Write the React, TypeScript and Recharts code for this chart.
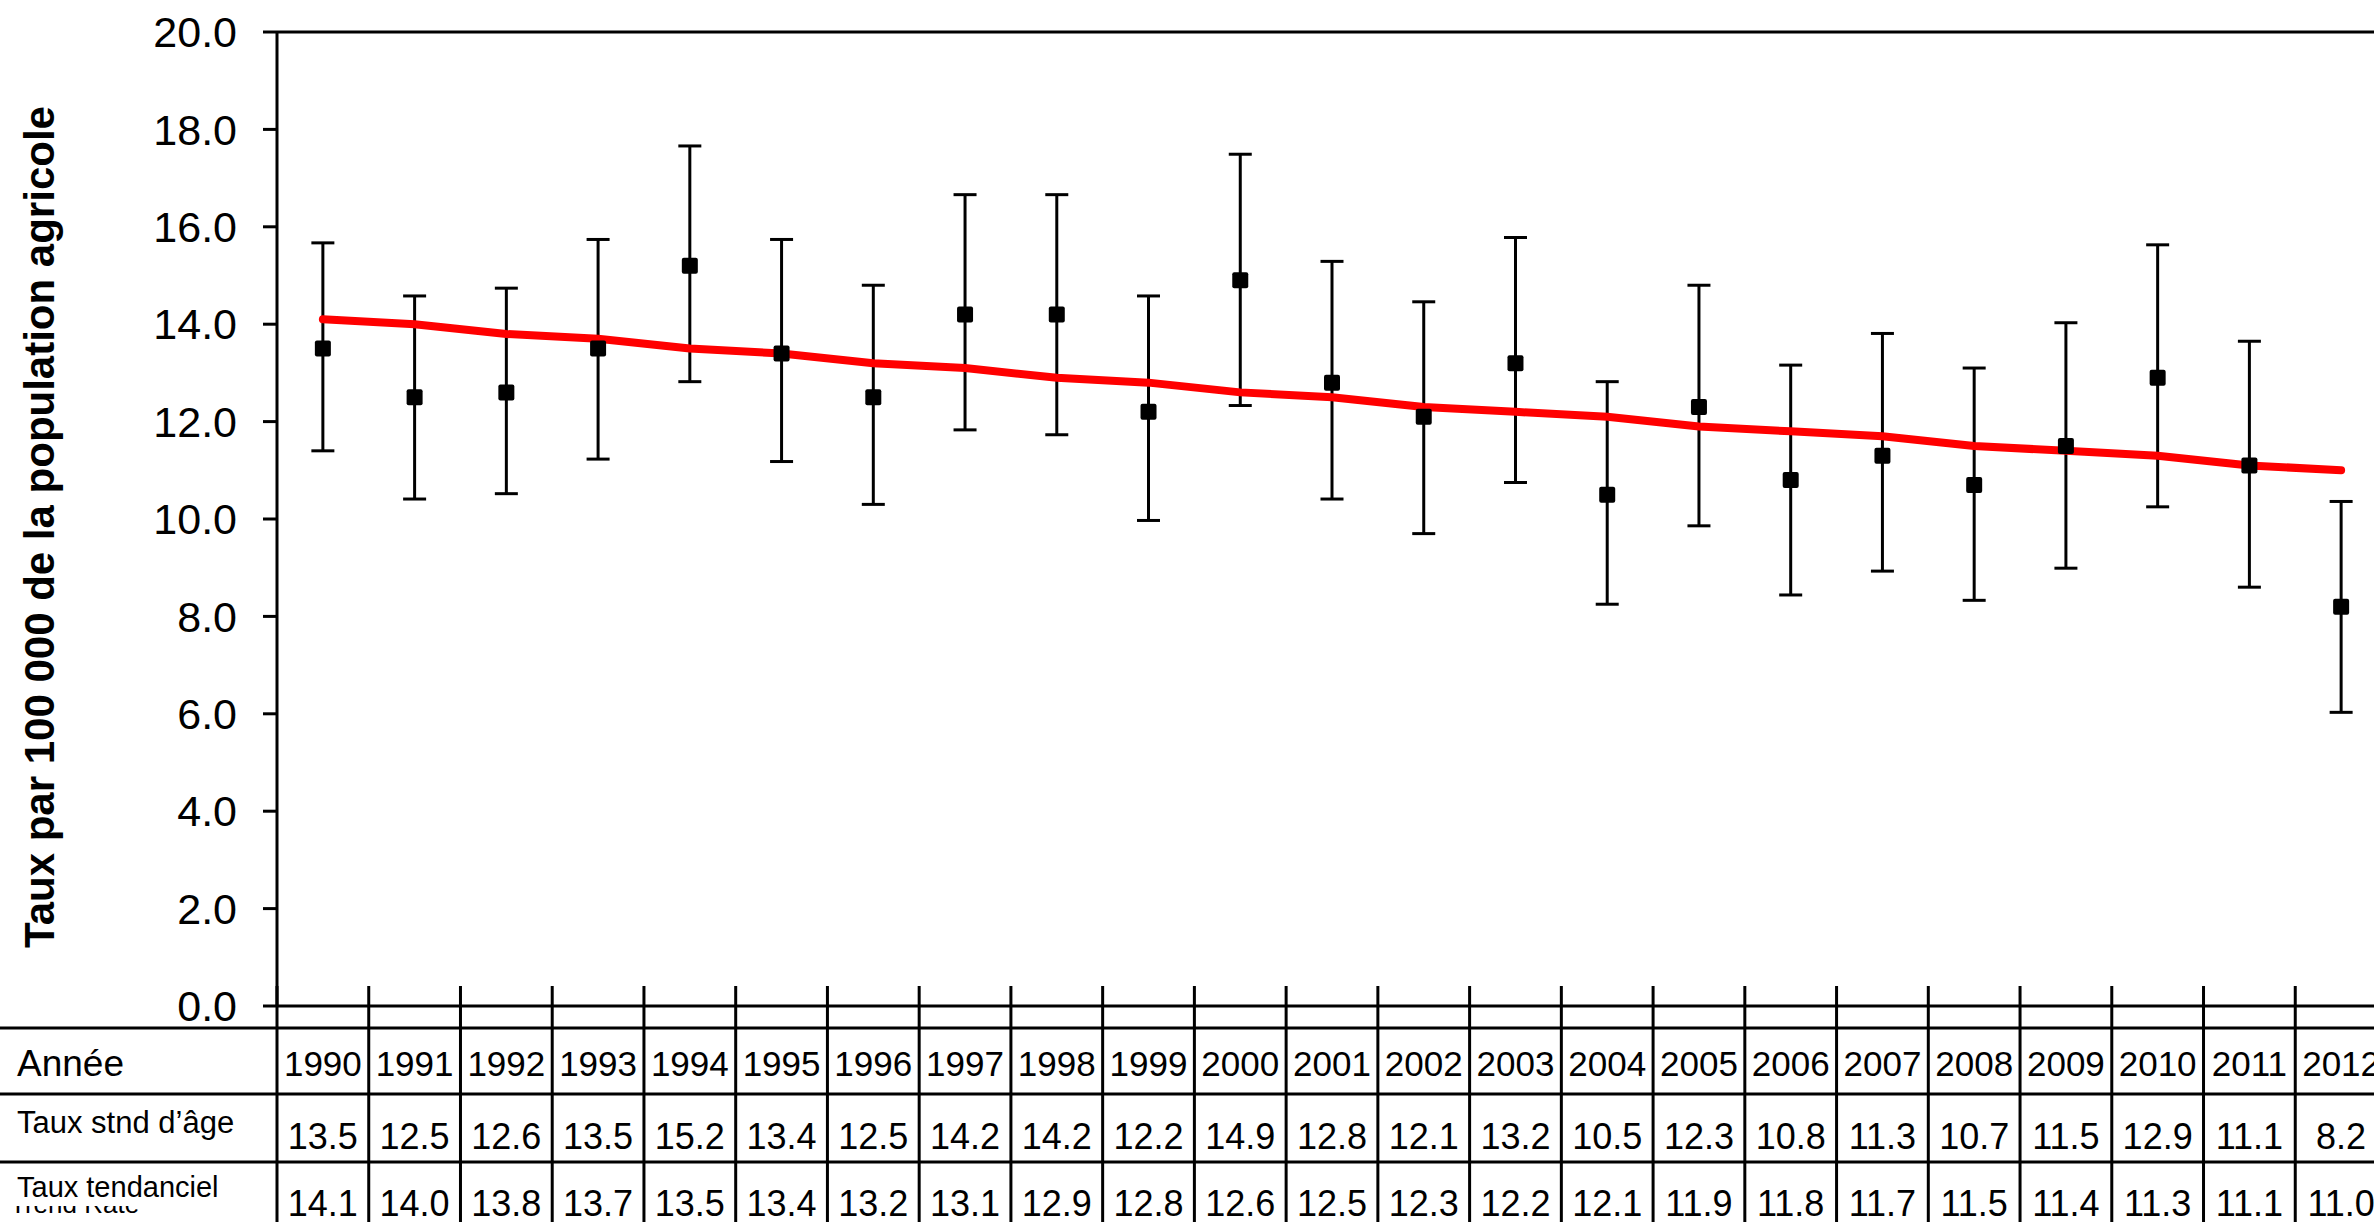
import React from "react";
import { ComposedChart, Line, Scatter, ErrorBar, XAxis, YAxis, ReferenceLine } from "recharts";

const YEARS = ["1990", "1991", "1992", "1993", "1994", "1995", "1996", "1997", "1998", "1999", "2000", "2001", "2002", "2003", "2004", "2005", "2006", "2007", "2008", "2009", "2010", "2011", "2012"];
const RATE = [13.5, 12.5, 12.6, 13.5, 15.2, 13.4, 12.5, 14.2, 14.2, 12.2, 14.9, 12.8, 12.1, 13.2, 10.5, 12.3, 10.8, 11.3, 10.7, 11.5, 12.9, 11.1, 8.2];
const TREND = [14.1, 14.0, 13.8, 13.7, 13.5, 13.4, 13.2, 13.1, 12.9, 12.8, 12.6, 12.5, 12.3, 12.2, 12.1, 11.9, 11.8, 11.7, 11.5, 11.4, 11.3, 11.1, 11.0];
// 95% CI
const CI_LOW = [11.4, 10.41, 10.52, 11.23, 12.82, 11.18, 10.3, 11.83, 11.73, 9.97, 12.33, 10.41, 9.7, 10.75, 8.25, 9.86, 8.44, 8.93, 8.33, 8.99, 10.25, 8.6, 6.03];
const CI_HIGH = [15.67, 14.58, 14.74, 15.74, 17.66, 15.74, 14.8, 16.66, 16.66, 14.58, 17.49, 15.29, 14.46, 15.78, 12.82, 14.8, 13.16, 13.81, 13.1, 14.03, 15.63, 13.65, 10.36];
const Y_TICKS = [0, 2, 4, 6, 8, 10, 12, 14, 16, 18, 20];
const ROW_LABELS = ["Année", "Taux stnd d’âge", "Taux tendanciel"];

const FONT = '"Liberation Sans", Arial, Helvetica, sans-serif';

const data = YEARS.map((year, i) => ({
  idx: i,
  year,
  rate: RATE[i],
  trend: TREND[i],
  ci: [RATE[i] - CI_LOW[i], CI_HIGH[i] - RATE[i]],
}));

// column edges (x.5) and column centres (x)
const xTicks = YEARS.flatMap((_, i) => [i - 0.5, i]).concat(YEARS.length - 0.5);

function TableTick(props: any) {
  const { x, y, payload } = props;
  const v = payload.value;
  if (!Number.isInteger(v)) {
    return (
      <g>
        <line x1={x} x2={x} y1={y - 20} y2={y + 240} stroke="#000" strokeWidth={3} />
        {v === -0.5 && (
          <g fontFamily={FONT} fill="#000">
            {[22, 88, 156, 224].map((dy) => (
              <line key={dy} x1={0} x2={2400} y1={y + dy} y2={y + dy} stroke="#000" strokeWidth={3} />
            ))}
            <text x={17} y={y + 70} fontSize={37}>{ROW_LABELS[0]}</text>
            <text x={17} y={y + 127} fontSize={31}>{ROW_LABELS[1]}</text>
            <text x={17} y={y + 191} fontSize={29}>{ROW_LABELS[2]}</text>
            <defs>
              <clipPath id="trendClip">
                <rect x={0} y={y + 200} width={270} height={30} />
              </clipPath>
            </defs>
            <text x={10} y={y + 207} fontSize={26} clipPath="url(#trendClip)">Trend Rate</text>
          </g>
        )}
      </g>
    );
  }
  return (
    <g fontFamily={FONT} fill="#000" textAnchor="middle">
      <text x={x} y={y + 70} fontSize={35}>{YEARS[v]}</text>
      <text x={x} y={y + 143} fontSize={36}>{RATE[v].toFixed(1)}</text>
      <text x={x} y={y + 210} fontSize={36}>{TREND[v].toFixed(1)}</text>
    </g>
  );
}

function YLabel(props: any) {
  const { viewBox } = props;
  const cy = viewBox.y + viewBox.height / 2 + 8;
  return (
    <text
      x={54}
      y={cy}
      transform={`rotate(-90, 54, ${cy})`}
      textAnchor="middle"
      fontFamily={FONT}
      fontWeight="bold"
      fontSize={42}
      fill="#000"
    >
      Taux par 100 000 de la population agricole
    </text>
  );
}

const Square = (props: any) => {
  const { cx, cy } = props;
  if (cx == null || cy == null) return <g />;
  return <rect x={cx - 8} y={cy - 8} width={16} height={16} rx={2} fill="#000" />;
};

export default function App() {
  return (
    <div style={{ position: "absolute", left: 0, top: 0, width: 2374, height: 1222, overflow: "hidden", background: "#fff" }}>
      <ComposedChart width={2400} height={1222} data={data} margin={{ top: 32, right: 13, bottom: 0, left: 0 }}>
        <XAxis
          dataKey="idx"
          type="number"
          domain={[-0.5, YEARS.length - 0.5]}
          ticks={xTicks}
          interval={0}
          height={216}
          tickSize={0}
          tickMargin={0}
          tickLine={false}
          axisLine={{ stroke: "#000", strokeWidth: 3 }}
          tick={<TableTick />}
        />
        <YAxis
          type="number"
          domain={[0, 20]}
          ticks={Y_TICKS}
          width={277}
          tickSize={14}
          tickMargin={26}
          tickFormatter={(v: number) => v.toFixed(1)}
          tick={{ fill: "#000", fontSize: 43, fontFamily: FONT }}
          tickLine={{ stroke: "#000", strokeWidth: 3 }}
          axisLine={{ stroke: "#000", strokeWidth: 3 }}
          label={<YLabel />}
        />
        <ReferenceLine y={20} stroke="#000" strokeWidth={3} />
        <Scatter dataKey="rate" shape={() => <g />} isAnimationActive={false}>
          <ErrorBar dataKey="ci" direction="y" width={11.5} stroke="#000" strokeWidth={3} />
        </Scatter>
        <Line
          dataKey="trend"
          type="linear"
          stroke="#ff0000"
          strokeWidth={8}
          strokeLinecap="round"
          dot={false}
          activeDot={false}
          isAnimationActive={false}
        />
        <Scatter dataKey="rate" shape={Square} isAnimationActive={false} />
      </ComposedChart>
    </div>
  );
}
